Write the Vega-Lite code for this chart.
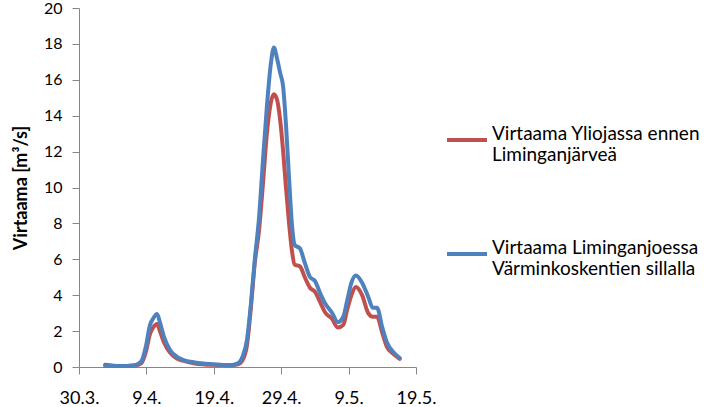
{
  "$schema": "https://vega.github.io/schema/vega-lite/v6.json",
  "width": 337,
  "height": 359,
  "autosize": {"type": "none"},
  "padding": {"left": 79, "top": 8, "right": 288, "bottom": 40},
  "background": "white",
  "config": {"view": {"stroke": null}, "font": "Lato"},
  "data": {"values": [
    {"t": "2010-04-02T21:00", "y": 0.12, "l": 0.05},
    {"t": "2010-04-05T02:00", "y": 0.05, "l": 0.05},
    {"t": "2010-04-07T07:00", "y": 0.08, "l": 0.1},
    {"t": "2010-04-08T05:00", "y": 0.2, "l": 0.3},
    {"t": "2010-04-08T23:00", "y": 0.9, "l": 1.2},
    {"t": "2010-04-09T12:00", "y": 1.8, "l": 2.3},
    {"t": "2010-04-10T00:00", "y": 2.2, "l": 2.7},
    {"t": "2010-04-10T14:00", "y": 2.4, "l": 2.95},
    {"t": "2010-04-11T00:00", "y": 2.0, "l": 2.5},
    {"t": "2010-04-11T14:00", "y": 1.4, "l": 1.7},
    {"t": "2010-04-12T12:00", "y": 0.8, "l": 0.95},
    {"t": "2010-04-13T10:00", "y": 0.5, "l": 0.6},
    {"t": "2010-04-14T10:00", "y": 0.35, "l": 0.4},
    {"t": "2010-04-16T05:00", "y": 0.2, "l": 0.25},
    {"t": "2010-04-18T22:00", "y": 0.12, "l": 0.15},
    {"t": "2010-04-21T10:00", "y": 0.1, "l": 0.1},
    {"t": "2010-04-22T14:00", "y": 0.15, "l": 0.2},
    {"t": "2010-04-23T07:00", "y": 0.4, "l": 0.6},
    {"t": "2010-04-23T22:00", "y": 1.2, "l": 1.5},
    {"t": "2010-04-24T12:00", "y": 3.3, "l": 3.5},
    {"t": "2010-04-25T02:00", "y": 5.8, "l": 6.0},
    {"t": "2010-04-25T17:00", "y": 7.6, "l": 8.3},
    {"t": "2010-04-26T07:00", "y": 10.2, "l": 11.5},
    {"t": "2010-04-26T21:00", "y": 13.0, "l": 14.5},
    {"t": "2010-04-27T12:00", "y": 14.8, "l": 17.0},
    {"t": "2010-04-27T22:00", "y": 15.2, "l": 17.8},
    {"t": "2010-04-28T09:00", "y": 14.9, "l": 17.2},
    {"t": "2010-04-28T20:00", "y": 13.8, "l": 16.4},
    {"t": "2010-04-29T07:00", "y": 12.0, "l": 15.6},
    {"t": "2010-04-29T17:00", "y": 10.0, "l": 13.5},
    {"t": "2010-04-30T04:00", "y": 8.0, "l": 10.5},
    {"t": "2010-04-30T14:00", "y": 6.5, "l": 8.0},
    {"t": "2010-05-01T00:00", "y": 5.7, "l": 6.8},
    {"t": "2010-05-01T19:00", "y": 5.6, "l": 6.6},
    {"t": "2010-05-02T12:00", "y": 5.0, "l": 5.8},
    {"t": "2010-05-03T07:00", "y": 4.4, "l": 5.0},
    {"t": "2010-05-04T00:00", "y": 4.2, "l": 4.8},
    {"t": "2010-05-04T19:00", "y": 3.6, "l": 4.1},
    {"t": "2010-05-05T12:00", "y": 3.05, "l": 3.55},
    {"t": "2010-05-06T12:00", "y": 2.7, "l": 3.05},
    {"t": "2010-05-07T10:00", "y": 2.2, "l": 2.5},
    {"t": "2010-05-08T05:00", "y": 2.35, "l": 2.8},
    {"t": "2010-05-08T19:00", "y": 3.2, "l": 3.7},
    {"t": "2010-05-09T10:00", "y": 4.0, "l": 4.7},
    {"t": "2010-05-10T02:00", "y": 4.45, "l": 5.1},
    {"t": "2010-05-11T00:00", "y": 4.0, "l": 4.7},
    {"t": "2010-05-11T22:00", "y": 3.0, "l": 3.9},
    {"t": "2010-05-12T14:00", "y": 2.8, "l": 3.3},
    {"t": "2010-05-13T05:00", "y": 2.8, "l": 3.3},
    {"t": "2010-05-14T00:00", "y": 1.9, "l": 2.2},
    {"t": "2010-05-14T17:00", "y": 1.1, "l": 1.35},
    {"t": "2010-05-15T14:00", "y": 0.75, "l": 0.85},
    {"t": "2010-05-16T14:00", "y": 0.45, "l": 0.5}
  ]},
  "transform": [{"fold": ["y", "l"], "as": ["series", "value"]}],
  "mark": {"type": "line", "strokeWidth": 4, "interpolate": "monotone", "strokeCap": "round", "strokeJoin": "round"},
  "encoding": {
    "x": {
      "field": "t", "type": "temporal",
      "scale": {"domain": [{"year": 2010, "month": 3, "date": 30}, {"year": 2010, "month": 5, "date": 19}]},
      "axis": {
        "title": null, "grid": false, "format": "%-d.%-m.",
        "values": [
          {"year": 2010, "month": 3, "date": 30},
          {"year": 2010, "month": 4, "date": 9},
          {"year": 2010, "month": 4, "date": 19},
          {"year": 2010, "month": 4, "date": 29},
          {"year": 2010, "month": 5, "date": 9},
          {"year": 2010, "month": 5, "date": 19}
        ],
        "domainColor": "#868686", "tickColor": "#868686", "tickSize": 7,
        "labelFontSize": 18, "labelColor": "#000000", "labelPadding": 15,
        "labelFont": "Lato", "labelFlush": false, "labelOverlap": false
      }
    },
    "y": {
      "field": "value", "type": "quantitative",
      "scale": {"domain": [0, 20], "nice": false},
      "axis": {
        "title": "Virtaama [m³/s]", "grid": false, "values": [0, 2, 4, 6, 8, 10, 12, 14, 16, 18, 20],
        "domainColor": "#868686", "tickColor": "#868686", "tickSize": 7,
        "labelFontSize": 16, "labelColor": "#000000", "labelPadding": 10,
        "labelFont": "Lato", "labelFontWeight": "normal",
        "titleFontSize": 18, "titleFont": "Lato", "titleFontWeight": "bold", "titleColor": "#000000",
        "titlePadding": 13
      }
    },
    "color": {
      "field": "series", "type": "nominal",
      "scale": {"domain": ["y", "l"], "range": ["#C0504D", "#4F81BD"]},
      "legend": {
        "title": null, "orient": "none", "legendX": 366, "legendY": 110,
        "symbolType": "stroke", "symbolSize": 1600, "symbolStrokeWidth": 4,
        "labelFontSize": 19, "labelFont": "Lato", "labelColor": "#000000", "labelLimit": 400,
        "labelLineHeight": 24, "labelBaseline": "alphabetic", "labelOffset": 3, "rowPadding": 67,
        "labelExpr": "datum.label == 'y' ? ['Virtaama Yliojassa ennen', 'Liminganjärveä'] : ['Virtaama Liminganjoessa', 'Värminkoskentien sillalla']"
      }
    }
  }
}
